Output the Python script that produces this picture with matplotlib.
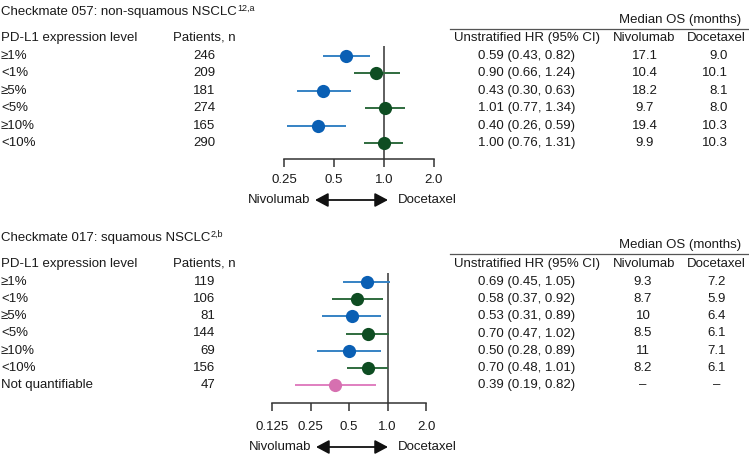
import matplotlib
matplotlib.use("Agg")
import matplotlib.pyplot as plt
from matplotlib.ticker import FixedLocator, NullLocator

plt.rcParams['font.family'] = ['Liberation Sans', 'DejaVu Sans']

W, H = 749, 454
FS = 9.5

# ---------------- data ----------------
top_title = "Checkmate 057: non-squamous NSCLC"
top_sup = "12,a"
top_labels = ['≥1%', '<1%', '≥5%', '<5%', '≥10%', '<10%']
top_n = [246, 209, 181, 274, 165, 290]
top_hr = [0.59, 0.90, 0.43, 1.01, 0.40, 1.00]
top_lo = [0.43, 0.66, 0.30, 0.77, 0.26, 0.76]
top_hi = [0.82, 1.24, 0.63, 1.34, 0.59, 1.31]
top_nivo = ['17.1', '10.4', '18.2', '9.7', '19.4', '9.9']
top_doce = ['9.0', '10.1', '8.1', '8.0', '10.3', '10.3']
top_groups = ['pos', 'neg', 'pos', 'neg', 'pos', 'neg']
top_ticks = [0.25, 0.5, 1.0, 2.0]
top_ticklabels = ['0.25', '0.5', '1.0', '2.0']

bot_title = "Checkmate 017: squamous NSCLC"
bot_sup = "2,b"
bot_labels = ['≥1%', '<1%', '≥5%', '<5%', '≥10%', '<10%', 'Not quantifiable']
bot_n = [119, 106, 81, 144, 69, 156, 47]
bot_hr = [0.69, 0.58, 0.53, 0.70, 0.50, 0.70, 0.39]
bot_lo = [0.45, 0.37, 0.31, 0.47, 0.28, 0.48, 0.19]
bot_hi = [1.05, 0.92, 0.89, 1.02, 0.89, 1.01, 0.82]
bot_nivo = ['9.3', '8.7', '10', '8.5', '11', '8.2', '–']
bot_doce = ['7.2', '5.9', '6.4', '6.1', '7.1', '6.1', '–']
bot_groups = ['pos', 'neg', 'pos', 'neg', 'pos', 'neg', 'nq']
bot_ticks = [0.125, 0.25, 0.5, 1.0, 2.0]
bot_ticklabels = ['0.125', '0.25', '0.5', '1.0', '2.0']

dot_col = {'pos': '#0a5fb4', 'neg': '#0e4d22', 'nq': '#d670b0'}
line_col = {'pos': '#3582c4', 'neg': '#2f6b3e', 'nq': '#e07fc0'}

fig = plt.figure(figsize=(W / 100, H / 100), dpi=100)


def fx(x):
    return x / W


def fy(y):
    return 1 - y / H


def txt(x, y, s, ha='left', size=FS, **kw):
    return fig.text(fx(x), fy(y), s, ha=ha, va='center', fontsize=size,
                    color='#1a1a1a', **kw)


renderer = fig.canvas.get_renderer()


def title_with_sup(x, y, s, sup):
    t = txt(x, y, s)
    bb = t.get_window_extent(renderer=renderer)
    fig.text(bb.x1 / W + 0.5 / W, fy(y - 4), sup, ha='left', va='center',
             fontsize=FS * 0.68, color='#1a1a1a')


def panel(title, sup, labels, ns, hr, lo, hi, nivo, doce, groups, ticks,
          ticklabels, y_title, y_head, y_rows, y_medos, y_line, ax_x0, ax_x1,
          ax_top, ax_base, arrow_y, arrow_x0, arrow_x1, tick_pad,
          nivo_x, nivo_ha, doce_x, doce_ha):
    title_with_sup(1, y_title, title, sup)
    txt(1, y_head, 'PD-L1 expression level')
    txt(173, y_head, 'Patients, n')
    txt(527, y_head, 'Unstratified HR (95% CI)', ha='center')
    txt(644, y_head, 'Nivolumab', ha='center')
    txt(716, y_head, 'Docetaxel', ha='center')
    txt(680, y_medos, 'Median OS (months)', ha='center')
    fig.add_artist(plt.Line2D([fx(450), fx(749)], [fy(y_line), fy(y_line)],
                              color='#555555', lw=0.9))

    nrow = len(labels)
    spacing = (y_rows[1] - y_rows[0]) / (nrow - 1)
    for i in range(nrow):
        y = y_rows[0] + i * spacing
        txt(1, y, labels[i])
        txt(215, y, str(ns[i]), ha='right')
        txt(527, y, f"{hr[i]:.2f} ({lo[i]:.2f}, {hi[i]:.2f})", ha='center')
        txt(nivo_x, y, nivo[i], ha=nivo_ha)
        txt(doce_x, y, doce[i], ha=doce_ha)

    ax = fig.add_axes([fx(ax_x0), fy(ax_base), (ax_x1 - ax_x0) / W,
                       (ax_base - ax_top) / H])
    ax.set_xscale('log', base=2)
    ax.set_xlim(ticks[0], ticks[-1])
    top_pad = (y_rows[0] - ax_top) / spacing
    bot_pad = (ax_base - y_rows[1]) / spacing
    ax.set_ylim(nrow - 1 + bot_pad, -top_pad)
    ax.axvline(1.0, color='#333333', lw=1.1, zorder=1)
    for i in range(nrow):
        g = groups[i]
        ax.plot([lo[i], hi[i]], [i, i], color=line_col[g], lw=1.4,
                solid_capstyle='butt', zorder=2, clip_on=False)
        ax.plot([hr[i]], [i], 'o', color=dot_col[g], ms=9.5, mew=0,
                zorder=3, clip_on=False)
    for s in ['left', 'right', 'top']:
        ax.spines[s].set_visible(False)
    ax.spines['bottom'].set_color('#333333')
    ax.spines['bottom'].set_linewidth(1.1)
    ax.xaxis.set_major_locator(FixedLocator(ticks))
    ax.xaxis.set_minor_locator(NullLocator())
    ax.set_xticklabels(ticklabels)
    ax.tick_params(axis='x', direction='out', length=5.5, width=1.1,
                   color='#333333', labelsize=FS, labelcolor='#1a1a1a',
                   pad=tick_pad)
    ax.set_yticks([])
    ax.patch.set_alpha(0)

    # direction arrow
    ax.annotate('', xy=(fx(arrow_x0), fy(arrow_y)),
                xytext=(fx(arrow_x1), fy(arrow_y)),
                xycoords='figure fraction', textcoords='figure fraction',
                arrowprops=dict(arrowstyle='<|-|>,head_length=0.75,head_width=0.4',
                                mutation_scale=10.5,
                                color='#111111', lw=1.3, shrinkA=0, shrinkB=0))
    txt(arrow_x0 - 5, arrow_y, 'Nivolumab', ha='right')
    txt(arrow_x1 + 10, arrow_y, 'Docetaxel', ha='left')


panel(top_title, top_sup, top_labels, top_n, top_hr, top_lo, top_hi,
      top_nivo, top_doce, top_groups, top_ticks, top_ticklabels,
      y_title=12, y_head=38, y_rows=(56, 143), y_medos=20, y_line=29,
      ax_x0=284, ax_x1=434, ax_top=46, ax_base=159,
      arrow_y=200, arrow_x0=315, arrow_x1=388, tick_pad=5.2,
      nivo_x=645, nivo_ha='center', doce_x=728, doce_ha='right')

panel(bot_title, bot_sup, bot_labels, bot_n, bot_hr, bot_lo, bot_hi,
      bot_nivo, bot_doce, bot_groups, bot_ticks, bot_ticklabels,
      y_title=238, y_head=264, y_rows=(282, 385), y_medos=245, y_line=254,
      ax_x0=272, ax_x1=426, ax_top=273, ax_base=403,
      arrow_y=447, arrow_x0=316, arrow_x1=388, tick_pad=7.3,
      nivo_x=643, nivo_ha='center', doce_x=717, doce_ha='center')

fig.savefig('out.png', dpi=100)
